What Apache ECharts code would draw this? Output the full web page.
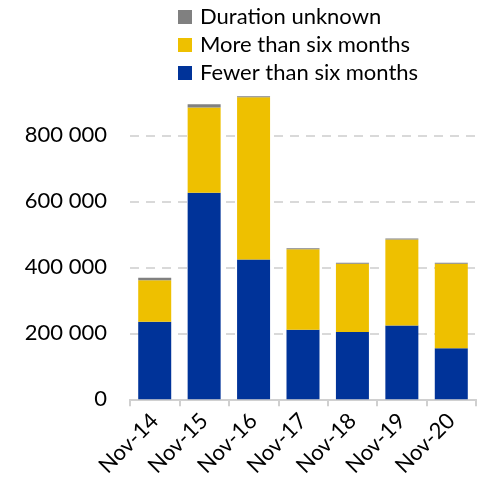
<!DOCTYPE html>
<html>
<head>
<meta charset="utf-8">
<script src="https://cdn.jsdelivr.net/npm/echarts@6/dist/echarts.min.js"></script>
<style>html,body{margin:0;padding:0;background:#fff}#c{width:481px;height:484px}</style>
</head>
<body>
<div id="c"></div>
<script>
const categories = ['Nov-14', 'Nov-15', 'Nov-16', 'Nov-17', 'Nov-18', 'Nov-19', 'Nov-20'];
const fewerThanSix = [235000, 626000, 424000, 211000, 204000, 224000, 155000];
const moreThanSix = [126000, 258000, 491000, 244000, 207000, 260000, 256000];
const durationUnknown = [7000, 10000, 3000, 3000, 3000, 3000, 3000];
const yTicks = [0, 200000, 400000, 600000, 800000];

const FONT = 'Lato';
const chart = echarts.init(document.getElementById('c'), null, {renderer: 'canvas'});
function fmt(v) {
  return String(v).replace(/\B(?=(\d{3})+(?!\d))/g, ' ');
}
chart.setOption({
  animation: false,
  textStyle: {fontFamily: FONT},
  legend: {
    orient: 'vertical',
    left: 173,
    top: 1,
    itemWidth: 14,
    itemHeight: 14,
    itemGap: 6,
    icon: 'rect',
    data: ['Duration unknown', 'More than six months', 'Fewer than six months'],
    textStyle: {fontFamily: FONT, fontSize: 22, color: '#000', lineHeight: 22, padding: [0, 0, 0, 3]}
  },
  grid: {left: 130, right: 5, top: 82.5, bottom: 84.7, containLabel: false},
  xAxis: {
    type: 'category',
    data: categories,
    axisLine: {lineStyle: {color: '#d0d0d0', width: 2}},
    axisTick: {show: true, length: 7, lineStyle: {color: '#d0d0d0', width: 2}},
    axisLabel: {rotate: 45, fontSize: 22, color: '#000', margin: 18, fontFamily: FONT, interval: 0}
  },
  yAxis: {
    type: 'value',
    min: 0,
    max: 960000,
    interval: 200000,
    axisLine: {show: false},
    axisTick: {show: false},
    axisLabel: {
      fontSize: 22, color: '#000', margin: 23, fontFamily: FONT,
      showMaxLabel: false,
      formatter: function (v) { return yTicks.indexOf(v) >= 0 ? fmt(v) : ''; }
    },
    splitLine: {show: true, showMaxLine: false, showMinLine: false, lineStyle: {color: '#d9d9d9', width: 2, type: [9, 7]}}
  },
  series: [
    {name: 'Fewer than six months', type: 'bar', stack: 'a', data: fewerThanSix, barWidth: 33, itemStyle: {color: '#003399'}},
    {name: 'More than six months', type: 'bar', stack: 'a', data: moreThanSix, barWidth: 33, itemStyle: {color: '#EEC000'}},
    {name: 'Duration unknown', type: 'bar', stack: 'a', data: durationUnknown, barWidth: 33, itemStyle: {color: '#808080'}}
  ]
});
</script>
</body>
</html>
